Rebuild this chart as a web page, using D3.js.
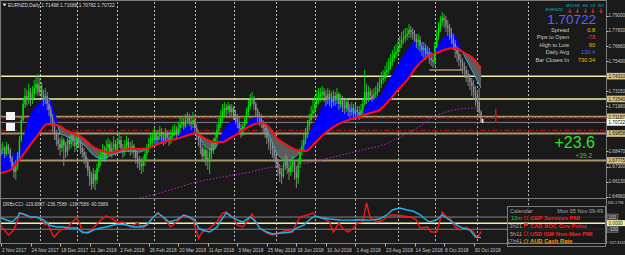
<!DOCTYPE html>
<html>
<head>
<meta charset="utf-8">
<title>EURNZD Daily</title>
<script src="https://cdn.jsdelivr.net/npm/d3@7"></script>
<style>
  body { margin: 0; background: #1a1a1a; overflow: hidden; }
  svg { display: block; }
</style>
</head>
<body>
<div id="chart"></div>
<script>
// ---- data ----
var header = "EURNZD,Daily  1.71498 1.71688 1.70782 1.70722";

var opens = [
  1.6827,1.6859,1.6874,1.6827,1.6890,1.6859,1.6796,1.6734,1.6688,1.6734,
  1.6812,1.6936,1.7091,1.7215,1.7278,1.7246,1.7309,1.7246,1.7293,1.7340,
  1.7371,1.7309,1.7355,1.7293,1.7246,1.7278,1.7215,1.7169,1.7107,1.7045,
  1.6983,1.6936,1.6905,1.6874,1.6936,1.6890,1.6843,1.6936,1.6905,1.6967,
  1.6921,1.6890,1.6952,1.6921,1.6874,1.6843,1.6812,1.6765,1.6703,1.6641,
  1.6595,1.6672,1.6626,1.6719,1.6781,1.6812,1.6859,1.6796,1.6874,1.6905,
  1.6843,1.6874,1.6905,1.6859,1.6905,1.6936,1.6874,1.6843,1.6890,1.6921,
  1.6874,1.6859,1.6890,1.6843,1.6796,1.6765,1.6750,1.6734,1.6781,1.6827,
  1.6874,1.6905,1.6936,1.6952,1.6983,1.6936,1.6967,1.6998,1.6952,1.6936,
  1.6983,1.6952,1.6936,1.6967,1.6998,1.7014,1.6983,1.7029,1.7060,1.7076,
  1.7045,1.7091,1.7107,1.7076,1.7060,1.7091,1.7029,1.6983,1.6936,1.6874,
  1.6812,1.6859,1.6781,1.6796,1.6843,1.6874,1.6905,1.6952,1.7014,1.7060,
  1.7107,1.7153,1.7184,1.7169,1.7200,1.7153,1.7184,1.7138,1.7107,1.7076,
  1.7029,1.6998,1.7045,1.7091,1.7153,1.7200,1.7246,1.7262,1.7215,1.7169,
  1.7122,1.7107,1.7076,1.7029,1.6998,1.6952,1.6921,1.6890,1.6859,1.6812,
  1.6765,1.6719,1.6672,1.6657,1.6734,1.6781,1.6719,1.6688,1.6734,1.6765,
  1.6688,1.6641,1.6750,1.6843,1.6890,1.6936,1.6998,1.7045,1.7091,1.7138,
  1.7169,1.7215,1.7246,1.7278,1.7293,1.7309,1.7278,1.7246,1.7293,1.7262,
  1.7231,1.7278,1.7246,1.7293,1.7215,1.7246,1.7200,1.7184,1.7231,1.7169,
  1.7153,1.7184,1.7138,1.7169,1.7153,1.7122,1.7169,1.7215,1.7309,1.7246,
  1.7309,1.7278,1.7262,1.7293,1.7309,1.7340,1.7371,1.7402,1.7417,1.7464,
  1.7479,1.7510,1.7541,1.7572,1.7603,1.7619,1.7650,1.7681,1.7712,1.7728,
  1.7743,1.7759,1.7790,1.7774,1.7759,1.7728,1.7696,1.7712,1.7665,1.7634,
  1.7650,1.7603,1.7619,1.7572,1.7557,1.7541,1.7665,1.7743,1.7805,1.7852,
  1.7883,1.7867,1.7821,1.7805,1.7774,1.7728,1.7681,1.7634,1.7603,1.7557,
  1.7541,1.7510,1.7479,1.7448,1.7417,1.7386,1.7355,1.7309,1.7278,1.7231,
  1.71498];

var highs = [
  1.6905,1.6921,1.6890,1.6921,1.6905,1.6874,1.6812,1.6765,1.6781,1.6843,
  1.6967,1.7122,1.7262,1.7340,1.7324,1.7371,1.7340,1.7355,1.7402,1.7433,
  1.7448,1.7417,1.7386,1.7324,1.7340,1.7309,1.7246,1.7200,1.7138,1.7076,
  1.7014,1.6983,1.6952,1.6967,1.6952,1.6921,1.6952,1.6967,1.6998,1.6983,
  1.6952,1.6983,1.6967,1.6936,1.6905,1.6874,1.6843,1.6796,1.6734,1.6688,
  1.6719,1.6703,1.6750,1.6812,1.6859,1.6905,1.6890,1.6936,1.6952,1.6936,
  1.6921,1.6967,1.6936,1.6952,1.6998,1.6967,1.6905,1.6936,1.6967,1.6952,
  1.6921,1.6936,1.6905,1.6874,1.6843,1.6812,1.6796,1.6812,1.6859,1.6905,
  1.6952,1.6983,1.6998,1.7029,1.7014,1.7014,1.7045,1.7029,1.6998,1.7029,
  1.7014,1.6998,1.7014,1.7045,1.7060,1.7045,1.7076,1.7107,1.7122,1.7107,
  1.7138,1.7153,1.7138,1.7122,1.7153,1.7107,1.7060,1.7014,1.6952,1.6905,
  1.6890,1.6874,1.6859,1.6874,1.6921,1.6952,1.6998,1.7060,1.7107,1.7169,
  1.7215,1.7231,1.7215,1.7231,1.7215,1.7215,1.7200,1.7169,1.7138,1.7107,
  1.7060,1.7076,1.7122,1.7184,1.7246,1.7293,1.7309,1.7278,1.7231,1.7184,
  1.7153,1.7138,1.7091,1.7060,1.7029,1.6983,1.6952,1.6921,1.6890,1.6859,
  1.6796,1.6750,1.6719,1.6765,1.6827,1.6812,1.6765,1.6781,1.6812,1.6781,
  1.6734,1.6796,1.6874,1.6936,1.6983,1.7029,1.7091,1.7138,1.7200,1.7246,
  1.7278,1.7324,1.7340,1.7340,1.7355,1.7340,1.7324,1.7340,1.7324,1.7309,
  1.7324,1.7309,1.7340,1.7309,1.7293,1.7278,1.7246,1.7262,1.7246,1.7215,
  1.7231,1.7215,1.7215,1.7200,1.7200,1.7215,1.7262,1.7479,1.7371,1.7355,
  1.7340,1.7324,1.7340,1.7355,1.7386,1.7433,1.7464,1.7479,1.7510,1.7541,
  1.7572,1.7603,1.7634,1.7665,1.7681,1.7712,1.7743,1.7774,1.7790,1.7805,
  1.7805,1.7836,1.7821,1.7805,1.7790,1.7759,1.7759,1.7743,1.7696,1.7696,
  1.7681,1.7665,1.7650,1.7619,1.7603,1.7696,1.7790,1.7852,1.7898,1.7929,
  1.7914,1.7898,1.7867,1.7836,1.7805,1.7759,1.7712,1.7665,1.7634,1.7603,
  1.7572,1.7541,1.7510,1.7479,1.7448,1.7417,1.7402,1.7355,1.7324,1.7340,
  1.71688];

var lows = [
  1.6812,1.6827,1.6796,1.6812,1.6827,1.6765,1.6703,1.6641,1.6626,1.6703,
  1.6796,1.6921,1.7076,1.7184,1.7200,1.7215,1.7200,1.7215,1.7262,1.7293,
  1.7278,1.7278,1.7246,1.7200,1.7215,1.7169,1.7122,1.7060,1.6998,1.6936,
  1.6890,1.6859,1.6812,1.6843,1.6734,1.6796,1.6812,1.6859,1.6874,1.6890,
  1.6843,1.6859,1.6874,1.6827,1.6796,1.6750,1.6719,1.6657,1.6579,1.6548,
  1.6564,1.6548,1.6595,1.6688,1.6734,1.6781,1.6765,1.6781,1.6827,1.6812,
  1.6796,1.6843,1.6812,1.6827,1.6874,1.6843,1.6796,1.6812,1.6859,1.6843,
  1.6812,1.6827,1.6796,1.6750,1.6719,1.6703,1.6672,1.6688,1.6734,1.6781,
  1.6843,1.6874,1.6890,1.6905,1.6890,1.6905,1.6936,1.6905,1.6890,1.6905,
  1.6921,1.6890,1.6905,1.6936,1.6967,1.6936,1.6967,1.6998,1.7029,1.7014,
  1.7029,1.7060,1.7045,1.7014,1.7029,1.6983,1.6936,1.6890,1.6827,1.6765,
  1.6765,1.6734,1.6703,1.6672,1.6781,1.6827,1.6874,1.6921,1.6983,1.7029,
  1.7076,1.7107,1.7122,1.7138,1.7107,1.7122,1.7091,1.7060,1.7029,1.6983,
  1.6952,1.6967,1.7014,1.7060,1.7122,1.7169,1.7215,1.7169,1.7122,1.7076,
  1.7045,1.7029,1.6983,1.6952,1.6905,1.6859,1.6827,1.6796,1.6765,1.6719,
  1.6657,1.6610,1.6595,1.6641,1.6703,1.6672,1.6626,1.6657,1.6688,1.6626,
  1.6564,1.6595,1.6719,1.6812,1.6859,1.6905,1.6952,1.7014,1.7060,1.7107,
  1.7138,1.7184,1.7215,1.7231,1.7246,1.7231,1.7200,1.7215,1.7200,1.7184,
  1.7200,1.7200,1.7215,1.7169,1.7184,1.7153,1.7138,1.7153,1.7122,1.7107,
  1.7122,1.7091,1.7107,1.7107,1.7091,1.7107,1.7138,1.7200,1.7215,1.7231,
  1.7246,1.7231,1.7246,1.7262,1.7278,1.7309,1.7340,1.7371,1.7386,1.7417,
  1.7448,1.7479,1.7510,1.7541,1.7572,1.7588,1.7619,1.7650,1.7681,1.7696,
  1.7712,1.7728,1.7728,1.7712,1.7696,1.7650,1.7634,1.7619,1.7588,1.7572,
  1.7557,1.7572,1.7526,1.7510,1.7495,1.7510,1.7650,1.7712,1.7774,1.7821,
  1.7805,1.7774,1.7743,1.7712,1.7681,1.7634,1.7572,1.7541,1.7510,1.7479,
  1.7448,1.7417,1.7386,1.7355,1.7324,1.7278,1.7246,1.7200,1.7153,1.7122,
  1.70702];

var closes = [
  1.6859,1.6874,1.6827,1.6890,1.6859,1.6796,1.6734,1.6688,1.6734,1.6812,
  1.6936,1.7091,1.7215,1.7278,1.7246,1.7309,1.7246,1.7293,1.7340,1.7371,
  1.7309,1.7355,1.7293,1.7246,1.7278,1.7215,1.7169,1.7107,1.7045,1.6983,
  1.6936,1.6905,1.6874,1.6936,1.6890,1.6843,1.6936,1.6905,1.6967,1.6921,
  1.6890,1.6952,1.6921,1.6874,1.6843,1.6812,1.6765,1.6703,1.6641,1.6595,
  1.6672,1.6626,1.6719,1.6781,1.6812,1.6859,1.6796,1.6874,1.6905,1.6843,
  1.6874,1.6905,1.6859,1.6905,1.6936,1.6874,1.6843,1.6890,1.6921,1.6874,
  1.6859,1.6890,1.6843,1.6796,1.6765,1.6750,1.6734,1.6781,1.6827,1.6874,
  1.6905,1.6936,1.6952,1.6983,1.6936,1.6967,1.6998,1.6952,1.6936,1.6983,
  1.6952,1.6936,1.6967,1.6998,1.7014,1.6983,1.7029,1.7060,1.7076,1.7045,
  1.7091,1.7107,1.7076,1.7060,1.7091,1.7029,1.6983,1.6936,1.6874,1.6812,
  1.6859,1.6781,1.6796,1.6843,1.6874,1.6905,1.6952,1.7014,1.7060,1.7107,
  1.7153,1.7184,1.7169,1.7200,1.7153,1.7184,1.7138,1.7107,1.7076,1.7029,
  1.6998,1.7045,1.7091,1.7153,1.7200,1.7246,1.7262,1.7215,1.7169,1.7122,
  1.7107,1.7076,1.7029,1.6998,1.6952,1.6921,1.6890,1.6859,1.6812,1.6765,
  1.6719,1.6672,1.6657,1.6734,1.6781,1.6719,1.6688,1.6734,1.6765,1.6688,
  1.6641,1.6750,1.6843,1.6890,1.6936,1.6998,1.7045,1.7091,1.7138,1.7169,
  1.7215,1.7246,1.7278,1.7293,1.7309,1.7278,1.7246,1.7293,1.7262,1.7231,
  1.7278,1.7246,1.7293,1.7215,1.7246,1.7200,1.7184,1.7231,1.7169,1.7153,
  1.7184,1.7138,1.7169,1.7153,1.7122,1.7169,1.7215,1.7309,1.7246,1.7309,
  1.7278,1.7262,1.7293,1.7309,1.7340,1.7371,1.7402,1.7417,1.7464,1.7479,
  1.7510,1.7541,1.7572,1.7603,1.7619,1.7650,1.7681,1.7712,1.7728,1.7743,
  1.7759,1.7790,1.7774,1.7759,1.7728,1.7696,1.7712,1.7665,1.7634,1.7650,
  1.7603,1.7619,1.7572,1.7557,1.7541,1.7665,1.7743,1.7805,1.7852,1.7883,
  1.7867,1.7821,1.7805,1.7774,1.7728,1.7681,1.7634,1.7603,1.7557,1.7541,
  1.7510,1.7479,1.7448,1.7417,1.7386,1.7355,1.7309,1.7278,1.7231,1.7150,
  1.70722];

var holidays = ["2017-12-25", "2018-01-01"];
var extraSeparators = [285.5];

// moving averages (bar index, price)
var maIdx  = [0,5,10,15,20,25,30,32,35,40,45,50,55,60,65,70,75,80,85,90,95,100,103,105,110,115,120,125,128,131,135,140,143,145,150,155,160,165,170,175,180,185,190,195,200,205,210,215,220,225,230,234,236,240,245,248,250,255,260];
var slowMA = [1.6680,1.6703,1.6781,1.6881,1.6974,1.7060,1.7052,1.7044,1.7013,1.6982,1.6943,1.6881,1.6850,1.6835,1.6858,1.6866,1.6866,1.6874,1.6905,1.6928,1.6943,1.6967,1.6982,1.6990,1.6951,1.6920,1.6920,1.6959,1.6982,1.7013,1.7044,1.7067,1.7060,1.7036,1.6943,1.6897,1.6858,1.6850,1.6912,1.6982,1.7036,1.7075,1.7099,1.7122,1.7145,1.7168,1.7238,1.7324,1.7401,1.7502,1.7572,1.7603,1.7611,1.7634,1.7650,1.7642,1.7619,1.7580,1.7494];
var fastMA = [1.6874,1.6819,1.6858,1.7106,1.7215,1.7262,1.7106,1.6990,1.6967,1.6936,1.6897,1.6819,1.6788,1.6819,1.6842,1.6850,1.6842,1.6881,1.6951,1.6959,1.6967,1.7044,1.7052,1.7029,1.6897,1.6858,1.6998,1.7083,1.7091,1.7013,1.7091,1.7114,1.7044,1.6982,1.6819,1.6780,1.6811,1.6936,1.7075,1.7215,1.7269,1.7238,1.7192,1.7153,1.7246,1.7277,1.7401,1.7518,1.7634,1.7712,1.7665,1.7611,1.7657,1.7735,1.7758,1.7688,1.7619,1.7479,1.7339];
var longIdx = [75,86,95,104,108,117,126,135,144,153,162,171,180,189,198,207,216,222,227,232,238,243,249,254,258];
var longMA  = [1.6486,1.6524,1.6563,1.6602,1.6617,1.6641,1.6664,1.6687,1.6718,1.6734,1.6749,1.6773,1.6804,1.6835,1.6866,1.6897,1.6959,1.6998,1.7044,1.7099,1.7137,1.7161,1.7176,1.7184,1.7184];

// CCI sub window
var cciBlueIdx = [0,3,6,9,10,12,16,19,23,26,30,34,37,41,44,47,50,54,57,61,64,68,72,75,79,82,85,88,91,95,99,102,105,107,109,113,117,120,122,125,128,131,135,138,140,144,147,152,157,160,164,167,170,174,178,184,189,194,200,205,209,212,216,220,223,227,229,232,236,239,243,247,250,254,257,260];
var cciBlue = [84,52,19,101,166,150,101,101,52,-31,-63,-63,-80,-80,-146,-162,-113,-80,-63,-31,-15,-31,-63,-63,-31,84,166,101,19,52,134,101,52,-80,-113,-146,-63,84,166,101,52,19,101,19,-80,-146,-178,-162,-146,-80,-31,52,117,84,68,52,50,55,50,68,134,216,249,216,199,140,84,19,52,134,52,-31,-80,-113,-228,-237];
var cciRedIdx = [0,1,4,7,9,10,12,16,19,21,24,25,28,29,32,36,38,41,43,44,47,50,54,57,60,63,66,70,74,77,80,82,85,89,92,95,98,101,104,107,109,113,117,120,122,126,128,131,134,136,138,140,144,147,151,155,158,159,162,166,169,171,174,178,180,183,185,188,191,193,196,198,200,204,207,211,214,218,222,225,227,231,233,236,239,242,243,246,249,252,256,258,260];
var cciRed = [-31,-80,-195,-113,52,166,150,84,101,84,-31,19,-195,-228,-113,-80,2,84,-31,-162,-146,-80,52,117,84,2,19,-63,2,-80,2,84,166,52,-63,19,101,101,52,-244,-146,-80,19,166,183,84,-31,-63,52,150,19,-80,-162,-195,-162,-113,-146,-63,101,134,166,101,84,19,-146,2,-80,-146,-80,2,19,331,84,19,52,134,134,117,101,52,-80,-63,-146,-146,183,84,84,-63,-113,-63,-146,-244,-139];
var cciHeader = "DRBnCCI -119.8837 -236.7588 -138.7588 -90.5889";
var cciLevels = [100, 0, -100];
var cciRange = [-317.8165, 355.1796];

// price axis and horizontal objects
var priceTicks = [1.79000,1.77830,1.76660,1.75490,1.74320,1.73150,1.71980,1.70810,1.69640,1.68470,1.67300,1.66130,1.64960];
var creamLevels = [1.74310, 1.72540];
var tanLevels = [1.71157, 1.69858, 1.67775];
var dashLevels = [1.71066, 1.70096];
var lastPrice = 1.70722;
var pivotSeg = [232, 250, 1.7479];
var rangeMark = [268, 1.7176, 1.7067];
var leftTags = [1.7122, 1.7037];

// info panel
var timeframes = ["M15", "H1", "H4", "D1", "W1"];
var infoLabels = ["Spread", "Pips to Open", "High to Low", "Daily Avg", "Bar Closes In"];
var infoValues = ["0.8", "-78", "90", "130.4", "730:34"];
var infoColors = ["#e6c400", "#ff2a2a", "#e6c400", "#4b5dff", "#e6c400"];
var bigGain = "+23.6", smallGain = "+39.2";

// news calendar
var calTitle = ["Calendar", "Mon 05 Nov 09:49"];
var calTimes = ["10m", "3h21", "5h11", "17h41"];
var calTimeColors = ["#33cc33", "#aaaaaa", "#aaaaaa", "#aaaaaa"];
var calEvents = ["GBP Services PMI", "CAD BOC Gov Poloz", "USD ISM Non-Man PMI", "AUD Cash Rate"];
var calColors = ["#ff2020", "#ff2020", "#ff2020", "#ff9900"];

// ---- drawing ----
var W = 625, H = 255;
var bg = "#1a1a1a";
var font = "'Liberation Sans', Arial, sans-serif";

var svg = d3.select("#chart").append("svg")
    .attr("width", W)
    .attr("height", H)
    .style("font-family", font);

svg.append("rect").attr("width", W).attr("height", H).attr("fill", bg);

var x = d3.scaleLinear().domain([0, 260]).range([1, 481]);
var y = d3.scaleLinear().domain([1.6496, 1.7900]).range([196.7, 15.7]);
var yc = d3.scaleLinear().domain(cciRange).range([242.5, 201.5]);

var plotRight = 606;

// dates for each bar (weekdays, without the two holidays)
var keyFmt = d3.timeFormat("%Y-%m-%d");
var barDates = [];
for (var d = new Date(2017, 10, 2); barDates.length < closes.length; d = d3.timeDay.offset(d, 1)) {
    var wd = d.getDay();
    if (wd === 0 || wd === 6 || holidays.indexOf(keyFmt(d)) >= 0) continue;
    barDates.push(d);
}
var separators = [];
barDates.forEach(function(dt, i) {
    if (i > 0 && dt.getMonth() !== barDates[i - 1].getMonth()) separators.push(i);
});
separators = separators.concat(extraSeparators);

var defs = svg.append("defs");
defs.append("clipPath").attr("id", "mainClip")
    .append("rect").attr("x", 1).attr("y", 1.5).attr("width", plotRight - 1).attr("height", 197);
defs.append("clipPath").attr("id", "cciClip")
    .append("rect").attr("x", 1).attr("y", 199).attr("width", plotRight - 1).attr("height", 44);

var main = svg.append("g").attr("clip-path", "url(#mainClip)");
var sub = svg.append("g").attr("clip-path", "url(#cciClip)");

// month separators
[main, sub].forEach(function(g, k) {
    g.selectAll("line.sep")
        .data(separators)
        .enter()
        .append("line")
        .attr("x1", function(d) { return Math.round(x(d)) + 0.5; })
        .attr("x2", function(d) { return Math.round(x(d)) + 0.5; })
        .attr("y1", k === 0 ? 2 : 199)
        .attr("y2", k === 0 ? 198 : 243)
        .attr("stroke", "#b8b8b8")
        .attr("stroke-dasharray", "2,2")
        .attr("stroke-width", 1);
});

// horizontal objects
main.selectAll("line.tan")
    .data(tanLevels)
    .enter()
    .append("line")
    .attr("x1", 0).attr("x2", plotRight)
    .attr("y1", function(d) { return y(d); })
    .attr("y2", function(d) { return y(d); })
    .attr("stroke", "#a8926a")
    .attr("stroke-width", 2);

main.selectAll("line.dash")
    .data(dashLevels)
    .enter()
    .append("line")
    .attr("x1", 0).attr("x2", plotRight)
    .attr("y1", function(d) { return y(d); })
    .attr("y2", function(d) { return y(d); })
    .attr("stroke", "#8e1616")
    .attr("stroke-width", 1.5)
    .attr("stroke-dasharray", "6,2,2,2");

main.append("line")
    .attr("x1", 0).attr("x2", plotRight)
    .attr("y1", y(lastPrice)).attr("y2", y(lastPrice))
    .attr("stroke", "#7a808c")
    .attr("stroke-width", 1);

main.selectAll("line.cream")
    .data(creamLevels)
    .enter()
    .append("line")
    .attr("x1", 0).attr("x2", plotRight)
    .attr("y1", function(d) { return y(d); })
    .attr("y2", function(d) { return y(d); })
    .attr("stroke", "#f4eeaa")
    .attr("stroke-width", 1.5);

// moving average ribbon
var maPts = maIdx.map(function(d, k) { return {i: d, f: fastMA[k], s: slowMA[k]}; });
var curve = d3.curveMonotoneX;
var ribbon = d3.area()
    .x(function(d) { return x(d.i); })
    .y0(function(d) { return y(d.s); })
    .y1(function(d) { return y(d.f); })
    .curve(curve);
var aboveSlow = d3.area()
    .x(function(d) { return x(d.i); })
    .y0(0)
    .y1(function(d) { return y(d.s); })
    .curve(curve);
var belowSlow = d3.area()
    .x(function(d) { return x(d.i); })
    .y0(function(d) { return y(d.s); })
    .y1(200)
    .curve(curve);
defs.append("clipPath").attr("id", "aboveSlow").append("path").attr("d", aboveSlow(maPts));
defs.append("clipPath").attr("id", "belowSlow").append("path").attr("d", belowSlow(maPts));

main.append("g").attr("clip-path", "url(#aboveSlow)")
    .append("path").attr("d", ribbon(maPts)).attr("fill", "#0000ff");
main.append("g").attr("clip-path", "url(#belowSlow)")
    .append("path").attr("d", ribbon(maPts)).attr("fill", "#5c5c5c");

// candles
var bars = closes.map(function(c, i) {
    return {i: i, o: opens[i], h: highs[i], l: lows[i], c: c};
});
var upCol = "#00e400", downCol = "#8e8e8e";
var candles = main.append("g");
candles.selectAll("line")
    .data(bars)
    .enter()
    .append("line")
    .attr("x1", function(d) { return x(d.i); })
    .attr("x2", function(d) { return x(d.i); })
    .attr("y1", function(d) { return y(d.h); })
    .attr("y2", function(d) { return y(d.l); })
    .attr("stroke", function(d) { return d.c >= d.o ? upCol : downCol; })
    .attr("stroke-width", 0.9);
candles.selectAll("rect")
    .data(bars)
    .enter()
    .append("rect")
    .attr("x", function(d) { return x(d.i) - 0.7; })
    .attr("width", 1.4)
    .attr("y", function(d) { return y(Math.max(d.o, d.c)); })
    .attr("height", function(d) { return Math.max(1, Math.abs(y(d.o) - y(d.c))); })
    .attr("fill", function(d) { return d.c >= d.o ? upCol : downCol; });

// MA lines
var fastLine = d3.line().x(function(d) { return x(d.i); }).y(function(d) { return y(d.f); }).curve(curve);
var slowLine = d3.line().x(function(d) { return x(d.i); }).y(function(d) { return y(d.s); }).curve(curve);
main.append("g").attr("clip-path", "url(#belowSlow)")
    .append("path").attr("d", fastLine(maPts))
    .attr("fill", "none").attr("stroke", "#38a8dc").attr("stroke-width", 1);
main.append("path").attr("d", slowLine(maPts))
    .attr("fill", "none").attr("stroke", "#ff1010").attr("stroke-width", 2);

var longPts = longIdx.map(function(d, k) { return {i: d, v: longMA[k]}; });
main.append("path")
    .attr("d", d3.line().x(function(d) { return x(d.i); }).y(function(d) { return y(d.v); }).curve(curve)(longPts))
    .attr("fill", "none")
    .attr("stroke", "#c21fc2")
    .attr("stroke-width", 1)
    .attr("stroke-dasharray", "1.5,1.8");

// small objects near the last bar
main.append("line")
    .attr("x1", x(pivotSeg[0])).attr("x2", x(pivotSeg[1]))
    .attr("y1", y(pivotSeg[2])).attr("y2", y(pivotSeg[2]))
    .attr("stroke", "#a8926a").attr("stroke-width", 1.5);
main.append("line")
    .attr("x1", x(rangeMark[0])).attr("x2", x(rangeMark[0]))
    .attr("y1", y(rangeMark[1])).attr("y2", y(rangeMark[2]))
    .attr("stroke", "#e01010").attr("stroke-width", 1.5);
main.append("rect")
    .attr("x", x(260) + 0.8).attr("y", y(lastPrice) - 3.5)
    .attr("width", 1.6).attr("height", 4)
    .attr("fill", "#fff4b0");

// white tags at the left edge
main.selectAll("rect.tag")
    .data(leftTags)
    .enter()
    .append("rect")
    .attr("x", 6).attr("width", 9)
    .attr("y", function(d) { return y(d) - 4; })
    .attr("height", 8)
    .attr("fill", "#f2f2f2");

// header
svg.append("path").attr("d", "M2.5,3.5 L6.5,3.5 L4.5,6.5 Z").attr("fill", "#e0e0e0");
svg.append("text")
    .attr("x", 8).attr("y", 7)
    .attr("font-size", 4.8)
    .attr("fill", "#dcdcdc")
    .text(header);

// info panel (top right)
var tfX = [570, 577.5, 585.5, 593, 601];
svg.selectAll("text.tf")
    .data(timeframes)
    .enter()
    .append("text")
    .attr("x", function(d, k) { return tfX[k]; })
    .attr("y", 6.5)
    .attr("text-anchor", "middle")
    .attr("font-size", 4.2)
    .attr("fill", "#1fb5b5")
    .text(function(d) { return d; });
svg.selectAll("path.arrow")
    .data(timeframes)
    .enter()
    .append("path")
    .attr("d", function(d, k) {
        var ax = tfX[k];
        return "M" + (ax - 0.5) + ",8.5 h1 v2.5 h1.3 l-1.8,2.6 l-1.8,-2.6 h1.3 Z";
    })
    .attr("fill", "#ff1a1a");
svg.append("text")
    .attr("x", 563).attr("y", 10.8)
    .attr("text-anchor", "end")
    .attr("font-size", 4.2)
    .attr("fill", "#1fb5b5")
    .text("EURNZD");
svg.append("text")
    .attr("x", 596).attr("y", 24)
    .attr("text-anchor", "end")
    .attr("font-size", 13.5)
    .attr("fill", "#5e60ff")
    .text(d3.format(".5f")(lastPrice));
svg.selectAll("text.infoLabel")
    .data(infoLabels)
    .enter()
    .append("text")
    .attr("x", 569)
    .attr("y", function(d, k) { return 32 + k * 7.4; })
    .attr("text-anchor", "end")
    .attr("font-size", 5.6)
    .attr("fill", "#c8c8c8")
    .text(function(d) { return d; });
svg.selectAll("text.infoValue")
    .data(infoValues)
    .enter()
    .append("text")
    .attr("x", 595)
    .attr("y", function(d, k) { return 32 + k * 7.4; })
    .attr("text-anchor", "end")
    .attr("font-size", 5.6)
    .attr("fill", function(d, k) { return infoColors[k]; })
    .text(function(d) { return d; });

svg.append("text")
    .attr("x", 595).attr("y", 148)
    .attr("text-anchor", "end")
    .attr("font-size", 16)
    .attr("fill", "#2fe02f")
    .text(bigGain);
svg.append("text")
    .attr("x", 592).attr("y", 157.5)
    .attr("text-anchor", "end")
    .attr("font-size", 6.5)
    .attr("fill", "#2fcc2f")
    .text(smallGain);

// CCI window
sub.selectAll("line.lvl")
    .data(cciLevels)
    .enter()
    .append("line")
    .attr("x1", 0).attr("x2", plotRight)
    .attr("y1", function(d) { return yc(d); })
    .attr("y2", function(d) { return yc(d); })
    .attr("stroke", function(d) { return d === 0 ? "#f6efa8" : "#858585"; })
    .attr("stroke-width", function(d) { return d === 0 ? 1.5 : 1; });

var cciLine = d3.line().x(function(d) { return x(d[0]); }).y(function(d) { return yc(d[1]); });
sub.append("path")
    .attr("d", cciLine(cciRedIdx.map(function(d, k) { return [d, cciRed[k]]; })))
    .attr("fill", "none").attr("stroke", "#ff1414").attr("stroke-width", 1.4);
sub.append("path")
    .attr("d", cciLine(cciBlueIdx.map(function(d, k) { return [d, cciBlue[k]]; })))
    .attr("fill", "none").attr("stroke", "#1cb4f2").attr("stroke-width", 1.4);

svg.append("text")
    .attr("x", 3).attr("y", 205.5)
    .attr("font-size", 4.6)
    .attr("fill", "#cfcfcf")
    .text(cciHeader);

// calendar panel
var cal = svg.append("g");
cal.append("rect")
    .attr("x", 507.5).attr("y", 206.5)
    .attr("width", 98).attr("height", 40)
    .attr("fill", bg).attr("fill-opacity", 0.85)
    .attr("stroke", "#7c7c7c").attr("stroke-width", 1);
cal.append("line")
    .attr("x1", 508).attr("x2", 605)
    .attr("y1", yc(0)).attr("y2", yc(0))
    .attr("stroke", "#f6efa8").attr("stroke-width", 1.5);
cal.append("text").attr("x", 510).attr("y", 212.5)
    .attr("font-size", 5.6).attr("fill", "#a8a8a8").text(calTitle[0]);
cal.append("text").attr("x", 603).attr("y", 212.5).attr("text-anchor", "end")
    .attr("font-size", 5.6).attr("fill", "#a8a8a8").text(calTitle[1]);
calEvents.forEach(function(ev, k) {
    var ry = 220 + k * 7.8;
    cal.append("text").attr("x", 522).attr("y", ry).attr("text-anchor", "end")
        .attr("font-size", 5.6).attr("fill", calTimeColors[k]).text(calTimes[k]);
    if (k === 1) {
        cal.append("path").attr("d", "M524," + (ry - 4.5) + " h4 v2.5 h-3.2 v2.3 h-0.8 Z")
            .attr("fill", calColors[k]);
    } else {
        cal.append("circle").attr("cx", 526).attr("cy", ry - 2)
            .attr("r", 1.9).attr("fill", "none")
            .attr("stroke", calColors[k]).attr("stroke-width", 0.7);
    }
    cal.append("text").attr("x", 530).attr("y", ry)
        .attr("font-size", 5.8).attr("font-weight", "bold")
        .attr("fill", calColors[k]).text(ev);
});

// frames
svg.append("rect").attr("x", 0.5).attr("y", 0.5).attr("width", plotRight).attr("height", 198)
    .attr("fill", "none").attr("stroke", "#7c7c7c");
svg.append("rect").attr("x", 0.5).attr("y", 198.5).attr("width", plotRight).attr("height", 45)
    .attr("fill", "none").attr("stroke", "#7c7c7c");

// price axis
var tagged = creamLevels.concat(tanLevels).map(function(v) { return {v: v, bg: "#d4be84", fg: "#1a1a1a"}; });
tagged.push({v: lastPrice, bg: "#ffffff", fg: "#000000"});
var freeTicks = priceTicks.filter(function(t) {
    return tagged.every(function(g) { return Math.abs(y(t) - y(g.v)) > 5.5; });
});

var axisG = svg.append("g");
axisG.selectAll("line.tick")
    .data(priceTicks)
    .enter()
    .append("line")
    .attr("x1", plotRight + 0.5).attr("x2", plotRight + 2.5)
    .attr("y1", function(d) { return Math.round(y(d)) + 0.5; })
    .attr("y2", function(d) { return Math.round(y(d)) + 0.5; })
    .attr("stroke", "#bcbcbc");
axisG.selectAll("text.tick")
    .data(freeTicks)
    .enter()
    .append("text")
    .attr("x", 608.5)
    .attr("y", function(d) { return y(d) + 1.7; })
    .attr("font-size", 4.6)
    .attr("fill", "#c8c8c8")
    .text(function(d) { return d3.format(".5f")(d); });

var tags = axisG.selectAll("g.tag").data(tagged).enter().append("g");
tags.append("rect")
    .attr("x", 607).attr("width", 18)
    .attr("y", function(d) { return y(d.v) - 3.3; })
    .attr("height", 6.6)
    .attr("fill", function(d) { return d.bg; });
tags.append("text")
    .attr("x", 608.5)
    .attr("y", function(d) { return y(d.v) + 1.7; })
    .attr("font-size", 4.6)
    .attr("fill", function(d) { return d.fg; })
    .text(function(d) { return d3.format(".5f")(d.v); });

// CCI axis
axisG.append("text").attr("x", 607.5).attr("y", yc(cciRange[1]) + 2)
    .attr("font-size", 3.9).attr("fill", "#c8c8c8").text(d3.format(".4f")(cciRange[1]));
axisG.append("text").attr("x", 607.5).attr("y", yc(cciRange[0]) + 1)
    .attr("font-size", 3.9).attr("fill", "#c8c8c8").text(d3.format(".4f")(cciRange[0]));
cciLevels.forEach(function(v) {
    var zero = v === 0;
    axisG.append("rect")
        .attr("x", 607).attr("y", yc(v) - 3)
        .attr("width", zero ? 18 : 11).attr("height", 6)
        .attr("fill", zero ? "#f2eaa4" : "#3c3c3c")
        .attr("stroke", zero ? "none" : "#8a8a8a").attr("stroke-width", 0.6);
    axisG.append("text")
        .attr("x", 608.5).attr("y", yc(v) + 1.7)
        .attr("font-size", 4.6)
        .attr("fill", zero ? "#1a1a1a" : "#d0d0d0")
        .text(zero ? d3.format(".4f")(v) : v);
});

// time axis
var fmtDate = d3.timeFormat("%-d %b %Y");
var labelIdx = d3.range(0, closes.length, 16);
var timeG = svg.append("g");
timeG.selectAll("line")
    .data(labelIdx)
    .enter()
    .append("line")
    .attr("x1", function(d) { return Math.round(x(d)) + 0.5; })
    .attr("x2", function(d) { return Math.round(x(d)) + 0.5; })
    .attr("y1", 243.5).attr("y2", 246.5)
    .attr("stroke", "#bcbcbc");
timeG.selectAll("text")
    .data(labelIdx)
    .enter()
    .append("text")
    .attr("x", function(d) { return x(d) + 1; })
    .attr("y", 251.5)
    .attr("font-size", 4.8)
    .attr("fill", "#c8c8c8")
    .text(function(d) { return fmtDate(barDates[d]); });
</script>
</body>
</html>
